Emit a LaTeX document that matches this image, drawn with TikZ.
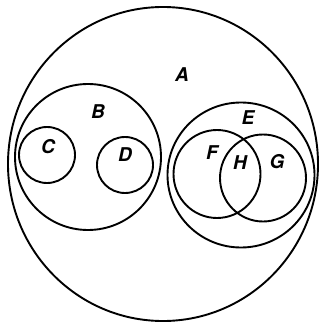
\documentclass[tikz,border=0pt]{standalone}
\usepackage{fontspec}
\setsansfont{TeX Gyre Heros}
\begin{document}
\begin{tikzpicture}[x=1pt,y=-1pt,
  ring/.style={draw=black,line width=1.9pt},
  lab/.style={font=\fontsize{19}{19}\selectfont\sffamily\bfseries\itshape}]
\useasboundingbox (0,0) rectangle (322,323);
\fill[white] (0,0) rectangle (322,323);
\draw[ring] (163,164) ellipse [x radius=155, y radius=157];
\draw[ring] (88,157) circle [radius=73];
\draw[ring] (47,155) circle [radius=28];
\draw[ring] (125,165) circle [radius=28];
\draw[ring] (241,175) ellipse [x radius=73.5, y radius=72.5];
\draw[ring] (217,174) ellipse [x radius=43.5, y radius=44];
\draw[ring] (263,178) ellipse [x radius=43, y radius=43.5];
\node[lab] (A) at (182,75) {A};
\node[lab] (B) at (98,112) {B};
\node[lab] (C) at (48,147) {C};
\node[lab] (D) at (125,155) {D};
\node[lab] (E) at (248,118) {E};
\node[lab] (F) at (212,153) {F};
\node[lab] (H) at (240,163) {H};
\node[lab] (G) at (277,162) {G};
\end{tikzpicture}
\end{document}
